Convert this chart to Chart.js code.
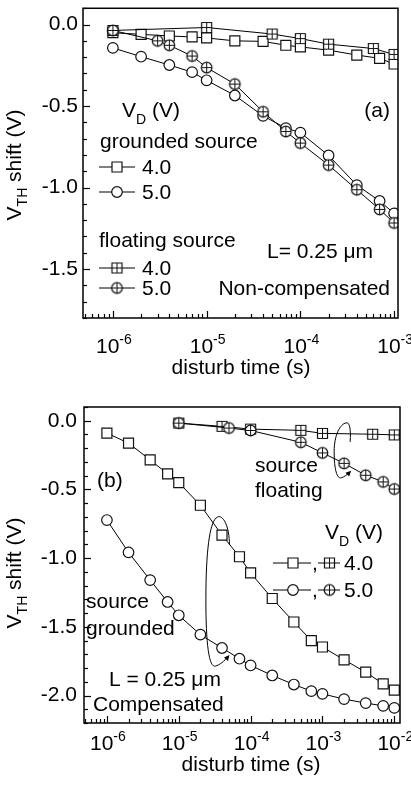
<!DOCTYPE html>
<html><head><meta charset="utf-8">
<script src="https://cdn.jsdelivr.net/npm/chart.js@4.4.0/dist/chart.umd.min.js"></script>
<style>
html,body{margin:0;padding:0;background:#fff;width:411px;height:790px;overflow:hidden}
#wa{position:absolute;left:0;top:0;width:411px;height:380px}
#wb{position:absolute;left:0;top:380px;width:411px;height:410px}
canvas{display:block}
</style></head><body>
<div id="wa"><canvas id="ca" width="411" height="380"></canvas></div>
<div id="wb"><canvas id="cb" width="411" height="410"></canvas></div>
<script>
const FONT = '"Liberation Sans", Arial, Helvetica, sans-serif';

// ---------- Panel (a): non-compensated ----------
const aXRange = [4.8e-7, 1.1e-3];
const aYRange = [-1.8, 0.1];
const aXTicks = [1e-6, 1e-5, 1e-4, 1e-3];
const aXTickExps = ['-6', '-5', '-4', '-3'];
const aYTicks = [0, -0.5, -1.0, -1.5];

const aTimesGrounded = [1e-6, 2e-6, 4e-6, 7e-6, 1e-5, 2e-5, 4e-5, 7e-5, 1e-4, 2e-4, 4e-4, 7e-4, 1e-3];
const aGrounded4 = [-0.05, -0.06, -0.07, -0.076, -0.082, -0.10, -0.103, -0.127, -0.137, -0.157, -0.187, -0.207, -0.242];
const aGrounded5 = [-0.143, -0.197, -0.248, -0.292, -0.342, -0.435, -0.56, -0.635, -0.663, -0.803, -0.985, -1.082, -1.158];
const aTimesFloat4 = [1e-6, 1e-5, 5e-5, 1e-4, 2e-4, 6e-4, 1e-3];
const aFloat4 = [-0.036, -0.018, -0.058, -0.086, -0.12, -0.147, -0.183];
const aTimesFloat5 = [1e-6, 3e-6, 4e-6, 7e-6, 1e-5, 2e-5, 4e-5, 7e-5, 1e-4, 2e-4, 4e-4, 7e-4, 1e-3];
const aFloat5 = [-0.036, -0.10, -0.127, -0.193, -0.264, -0.365, -0.535, -0.656, -0.727, -0.862, -1.013, -1.134, -1.217];

// ---------- Panel (b): compensated ----------
const bXRange = [4.8e-7, 1.2e-2];
const bYRange = [-2.2, 0.1];
const bXTicks = [1e-6, 1e-5, 1e-4, 1e-3, 1e-2];
const bXTickExps = ['-6', '-5', '-4', '-3', '-2'];
const bYTicks = [0, -0.5, -1.0, -1.5, -2.0];

const bTimesGrounded = [1e-6, 2e-6, 4e-6, 7e-6, 1e-5, 2e-5, 4e-5, 7e-5, 1e-4, 2e-4, 4e-4, 7e-4, 1e-3, 2e-3, 4e-3, 7e-3, 1e-2];
const bGrounded4 = [-0.09, -0.163, -0.285, -0.387, -0.45, -0.615, -0.832, -0.99, -1.108, -1.294, -1.465, -1.60, -1.647, -1.74, -1.83, -1.915, -1.96];
const bGrounded5 = [-0.723, -0.958, -1.16, -1.319, -1.416, -1.557, -1.654, -1.732, -1.781, -1.854, -1.92, -1.968, -1.988, -2.026, -2.055, -2.075, -2.09];
const bTimesFloat4 = [1e-5, 4e-5, 1e-4, 5e-4, 1e-3, 5e-3, 1e-2];
const bFloat4 = [-0.017, -0.041, -0.061, -0.07, -0.092, -0.098, -0.103];
const bTimesFloat5 = [1e-5, 5e-5, 1e-4, 5e-4, 1e-3, 2e-3, 4e-3, 7e-3, 1e-2];
const bFloat5 = [-0.017, -0.053, -0.071, -0.157, -0.234, -0.31, -0.397, -0.445, -0.497];

// ---------- markers ----------
function makeMarker(shape, size) {
  const n = 15, m = 7.5, h = size / 2;
  const c = document.createElement('canvas');
  c.width = n; c.height = n;
  const g = c.getContext('2d');
  g.lineWidth = 1.2; g.strokeStyle = '#111'; g.fillStyle = '#fff';
  g.beginPath();
  if (shape === 'square') g.rect(m - h, m - h, size, size); else g.arc(m, m, h, 0, Math.PI * 2);
  g.fill(); g.stroke();
  g.lineWidth = 1;
  g.beginPath(); g.moveTo(m - h, m); g.lineTo(m + h, m); g.moveTo(m, m - h); g.lineTo(m, m + h); g.stroke();
  return c;
}
const imgSqCross = makeMarker('square', 10);
const imgCircCross = makeMarker('circle', 10.6);

function pts(xs, ys) { return xs.map((x, i) => ({ x: x, y: ys[i] })); }
function ds(xs, ys, style) {
  const o = {
    data: pts(xs, ys), borderColor: '#000', borderWidth: 1, tension: 0, fill: false,
    pointBackgroundColor: '#fff', pointBorderColor: '#111', pointBorderWidth: 1.2
  };
  if (style === 'square') { o.pointStyle = 'rect'; o.pointRadius = 7.07; }
  else if (style === 'circle') { o.pointStyle = 'circle'; o.pointRadius = 5.3; }
  else if (style === 'sqcross') { o.pointStyle = imgSqCross; o.pointRadius = 6; }
  else { o.pointStyle = imgCircCross; o.pointRadius = 6; }
  return o;
}

// ---------- drawing helpers ----------
function drawRich(ctx, parts, x, y, align) {
  let w = 0;
  parts.forEach(p => { ctx.font = p[1] + 'px ' + FONT; w += ctx.measureText(p[0]).width; });
  let cx = align === 'center' ? x - w / 2 : (align === 'right' ? x - w : x);
  ctx.textAlign = 'left'; ctx.textBaseline = 'alphabetic'; ctx.fillStyle = '#000';
  parts.forEach(p => { ctx.font = p[1] + 'px ' + FONT; ctx.fillText(p[0], cx, y + (p[2] || 0)); cx += ctx.measureText(p[0]).width; });
}
function drawMarker(ctx, kind, x, y) {
  ctx.fillStyle = '#fff'; ctx.strokeStyle = '#111'; ctx.lineWidth = 1.2;
  if (kind === 'square') { ctx.beginPath(); ctx.rect(x - 5, y - 5, 10, 10); ctx.fill(); ctx.stroke(); }
  else if (kind === 'circle') { ctx.beginPath(); ctx.arc(x, y, 5.3, 0, Math.PI * 2); ctx.fill(); ctx.stroke(); }
  else { const im = kind === 'sqcross' ? imgSqCross : imgCircCross; ctx.drawImage(im, x - im.width / 2, y - im.height / 2); }
}
function legendRow(ctx, y, segs, text, tx) {
  ctx.strokeStyle = '#000'; ctx.lineWidth = 1;
  segs.forEach(s => { ctx.beginPath(); ctx.moveTo(s[0], y); ctx.lineTo(s[1], y); ctx.stroke(); });
  segs.forEach(s => drawMarker(ctx, s[3], s[2], y));
  drawRich(ctx, [[text, 21]], tx, y + 7, 'left');
}
function drawFrameAndTicks(chart, xTicks, xExps, labelBase, titleX, titleBase, yTitleY) {
  const ctx = chart.ctx, ca = chart.chartArea, xs = chart.scales.x, ys = chart.scales.y;
  ctx.save();
  ctx.strokeStyle = '#000'; ctx.lineWidth = 1.5;
  ctx.strokeRect(ca.left, ca.top, ca.right - ca.left, ca.bottom - ca.top);
  ctx.lineWidth = 1.2;
  // y ticks (inward)
  const k0 = Math.ceil(ys.min * 10 - 1e-6), k1 = Math.floor(ys.max * 10 + 1e-6);
  for (let k = k0; k <= k1; k++) {
    const py = Math.round(ys.getPixelForValue(k / 10)) + 0.5;
    const len = (k % 5 === 0) ? 7 : 4;
    ctx.beginPath(); ctx.moveTo(ca.left, py); ctx.lineTo(ca.left + len, py); ctx.stroke();
  }
  // x ticks (inward, log)
  const d0 = Math.floor(Math.log10(xs.min)), d1 = Math.ceil(Math.log10(xs.max));
  for (let d = d0; d <= d1; d++) {
    for (let m = 1; m <= 9; m++) {
      const v = m * Math.pow(10, d);
      if (v < xs.min || v > xs.max) continue;
      const px = Math.round(xs.getPixelForValue(v)) + 0.5;
      const len = m === 1 ? 7 : 4;
      ctx.beginPath(); ctx.moveTo(px, ca.bottom); ctx.lineTo(px, ca.bottom - len); ctx.stroke();
    }
  }
  // x tick labels with superscripts
  xTicks.forEach((v, i) => {
    drawRich(ctx, [['10', 21], [xExps[i], 14, -9]], xs.getPixelForValue(v) + 1, labelBase, 'center');
  });
  // axis titles
  drawRich(ctx, [['disturb time (s)', 21]], titleX, titleBase, 'center');
  ctx.save();
  ctx.translate(21, yTitleY); ctx.rotate(-Math.PI / 2);
  drawRich(ctx, [['V', 21], ['TH', 14, 6], [' shift (V)', 21]], 0, 0, 'center');
  ctx.restore();
  ctx.restore();
}

const decorA = {
  id: 'decorA',
  afterDraw(chart) {
    const ctx = chart.ctx;
    drawFrameAndTicks(chart, aXTicks, aXTickExps, 353, 241, 374, 165);
    ctx.save();
    drawRich(ctx, [['V', 21], ['D', 14, 7], [' (V)', 21]], 122, 117, 'left');
    drawRich(ctx, [['(a)', 21]], 390, 117, 'right');
    drawRich(ctx, [['grounded source', 21]], 100, 148, 'left');
    legendRow(ctx, 167, [[99, 135, 117, 'square']], '4.0', 142);
    legendRow(ctx, 192, [[99, 135, 117, 'circle']], '5.0', 142);
    drawRich(ctx, [['floating source', 21]], 99, 247, 'left');
    legendRow(ctx, 268, [[99, 135, 117, 'sqcross']], '4.0', 142);
    legendRow(ctx, 288, [[99, 135, 117, 'circcross']], '5.0', 142);
    drawRich(ctx, [['L= 0.25 \u03bcm', 21]], 267, 258, 'left');
    drawRich(ctx, [['Non-compensated', 21]], 390, 295, 'right');
    ctx.restore();
  }
};

function arrowHead(ctx, fx, fy, tx, ty) {
  const a = Math.atan2(ty - fy, tx - fx), L = 6, W = 0.45;
  ctx.beginPath();
  ctx.moveTo(tx, ty);
  ctx.lineTo(tx - L * Math.cos(a - W), ty - L * Math.sin(a - W));
  ctx.lineTo(tx - L * Math.cos(a + W), ty - L * Math.sin(a + W));
  ctx.closePath(); ctx.fill();
}

const decorB = {
  id: 'decorB',
  afterDraw(chart) {
    const ctx = chart.ctx, xs = chart.scales.x, ys = chart.scales.y;
    drawFrameAndTicks(chart, bXTicks, bXTickExps, 370, 251, 391, 193);
    ctx.save();
    drawRich(ctx, [['(b)', 21]], 97, 107, 'left');
    drawRich(ctx, [['source', 21]], 255, 92, 'left');
    drawRich(ctx, [['floating', 21]], 255, 117, 'left');
    drawRich(ctx, [['V', 21], ['D', 14, 7], [' (V)', 21]], 325, 159, 'left');
    legendRow(ctx, 183, [[273, 311, 293, 'square'], [318, 340, 329.5, 'sqcross']], '4.0', 344);
    legendRow(ctx, 210, [[273, 311, 293, 'circle'], [318, 340, 329.5, 'circcross']], '5.0', 344);
    drawRich(ctx, [[',', 21]], 312, 190, 'left');
    drawRich(ctx, [[',', 21]], 312, 217, 'left');
    drawRich(ctx, [['source', 21]], 86, 228, 'left');
    drawRich(ctx, [['grounded', 21]], 86, 255, 'left');
    drawRich(ctx, [['L = 0.25 \u03bcm', 21]], 109, 306, 'left');
    drawRich(ctx, [['Compensated', 21]], 93, 331, 'left');

    // loop annotations anchored on the data scales
    ctx.strokeStyle = '#000'; ctx.fillStyle = '#000'; ctx.lineWidth = 1;
    // big loop (source grounded)
    let ax = xs.getPixelForValue(3.4e-5), ay = ys.getPixelForValue(-1.24);
    ctx.beginPath();
    ctx.moveTo(ax + 12.5, ay - 46);
    ctx.bezierCurveTo(ax + 12.5, ay - 66, ax + 5.5, ay - 77, ax + 0.5, ay - 74);
    ctx.bezierCurveTo(ax - 6.5, ay - 71, ax - 10.5, ay - 46, ax - 11, ay - 1);
    ctx.bezierCurveTo(ax - 11.5, ay + 49, ax - 8.5, ay + 77, ax - 1.5, ay + 75);
    ctx.bezierCurveTo(ax + 2.5, ay + 74, ax + 7.5, ay + 70, ax + 11.5, ay + 65);
    ctx.stroke();
    arrowHead(ctx, ax + 7.5, ay + 70, ax + 12.5, ay + 64);
    // small loop (source floating)
    ax = xs.getPixelForValue(1.82e-3); ay = ys.getPixelForValue(-0.212);
    ctx.beginPath();
    ctx.moveTo(ax + 9, ay - 8);
    ctx.bezierCurveTo(ax + 10, ay - 22, ax + 8, ay - 28, ax + 5, ay - 27);
    ctx.bezierCurveTo(ax - 1, ay - 26, ax - 7, ay - 15, ax - 7, ay + 2);
    ctx.bezierCurveTo(ax - 7, ay + 20, ax - 4, ay + 29, ax, ay + 28);
    ctx.bezierCurveTo(ax + 3, ay + 27, ax + 6, ay + 25, ax + 9, ay + 22);
    ctx.stroke();
    arrowHead(ctx, ax + 5, ay + 26, ax + 10, ay + 21);
    ctx.restore();
  }
};

function makeChart(canvas, datasets, xr, yr, xTicks, yTicks, padding, yWidth, xHeight, yPad, plugin) {
  return new Chart(canvas, {
    type: 'line',
    data: { datasets: datasets },
    options: {
      responsive: false, animation: false, devicePixelRatio: 1, events: [],
      layout: { padding: padding },
      plugins: { legend: { display: false }, tooltip: { enabled: false } },
      scales: {
        x: {
          type: 'logarithmic', min: xr[0], max: xr[1],
          grid: { display: false, drawTicks: false }, border: { display: false },
          ticks: { display: false },
          afterBuildTicks: s => { s.ticks = xTicks.map(v => ({ value: v })); },
          afterFit: s => { s.height = xHeight; s.paddingLeft = 0; s.paddingRight = 0; }
        },
        y: {
          type: 'linear', min: yr[0], max: yr[1],
          grid: { display: false, drawTicks: false }, border: { display: false },
          ticks: { color: '#000', padding: yPad, font: { family: FONT, size: 21 }, callback: v => Number(v).toFixed(1) },
          afterBuildTicks: s => { s.ticks = yTicks.map(v => ({ value: v })); },
          afterFit: s => { s.width = yWidth; s.paddingTop = 0; s.paddingBottom = 0; }
        }
      }
    },
    plugins: [plugin]
  });
}

makeChart(document.getElementById('ca'), [
  ds(aTimesFloat5, aFloat5, 'circcross'),
  ds(aTimesFloat4, aFloat4, 'sqcross'),
  ds(aTimesGrounded, aGrounded5, 'circle'),
  ds(aTimesGrounded, aGrounded4, 'square')
], aXRange, aYRange, aXTicks, aYTicks, { left: 0, right: 13, top: 4, bottom: 0 }, 83, 62, 5, decorA);

makeChart(document.getElementById('cb'), [
  ds(bTimesFloat5, bFloat5, 'circcross'),
  ds(bTimesFloat4, bFloat4, 'sqcross'),
  ds(bTimesGrounded, bGrounded5, 'circle'),
  ds(bTimesGrounded, bGrounded4, 'square')
], bXRange, bYRange, bXTicks, bYTicks, { left: 0, right: 11, top: 27, bottom: 0 }, 84, 67, 7, decorB);
</script></body></html>
